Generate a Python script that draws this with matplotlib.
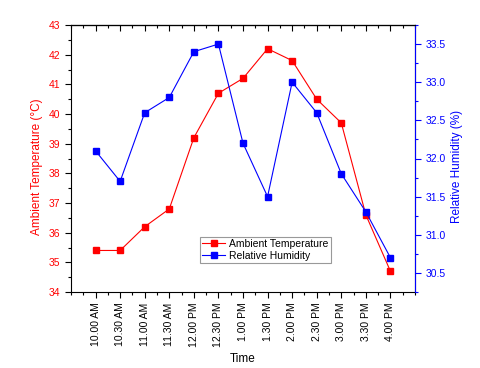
import matplotlib
matplotlib.use("Agg")
import matplotlib.pyplot as plt
from matplotlib.ticker import MultipleLocator, AutoMinorLocator, FormatStrFormatter

plt.rcParams['font.family'] = ['Liberation Sans', 'DejaVu Sans']

times = ["10.00 AM", "10.30 AM", "11.00 AM", "11.30 AM", "12.00 PM", "12.30 PM",
         "1.00 PM", "1.30 PM", "2.00 PM", "2.30 PM", "3.00 PM", "3.30 PM", "4.00 PM"]
temperature = [35.4, 35.4, 36.2, 36.8, 39.2, 40.7, 41.2, 42.2, 41.8, 40.5, 39.7, 36.6, 34.7]
humidity = [32.1, 31.7, 32.6, 32.8, 33.4, 33.5, 32.2, 31.5, 33.0, 32.6, 31.8, 31.3, 30.7]

red = '#ff0000'
blue = '#0000ff'

fig = plt.figure(figsize=(4.8, 3.68), dpi=100)
ax = fig.add_axes([71/480, 1-292/368, 344/480, 267/368])
ax2 = ax.twinx()

x = list(range(len(times)))
l1, = ax.plot(x, temperature, color=red, marker='s', markersize=4, lw=0.8, label='Ambient Temperature')
l2, = ax2.plot(x, humidity, color=blue, marker='s', markersize=4, lw=0.8, label='Relative Humidity')

ax.set_xlim(-1, 13)
ax.set_ylim(34, 43)
ax2.set_ylim(30.25, 33.75)

ax.set_xticks(x)
ax.set_xticklabels(times, rotation=90, fontsize=7.5)
ax.xaxis.set_minor_locator(AutoMinorLocator(2))
ax.yaxis.set_major_locator(MultipleLocator(1))
ax.yaxis.set_minor_locator(MultipleLocator(0.5))
ax2.yaxis.set_major_locator(MultipleLocator(0.5))
ax2.yaxis.set_minor_locator(MultipleLocator(0.25))
ax2.yaxis.set_major_formatter(FormatStrFormatter('%.1f'))

ax.tick_params(axis='x', which='both', direction='out', top=False)
ax.tick_params(axis='x', which='major', length=4, width=0.8)
ax.tick_params(axis='x', which='minor', length=2.5, width=0.8)
ax.tick_params(axis='y', which='major', direction='out', length=4, width=0.8, colors='black', labelcolor=red, labelsize=7.5)
ax.tick_params(axis='y', which='minor', direction='out', length=2.5, width=0.8)
ax2.tick_params(axis='y', which='major', direction='out', length=4, width=0.8, colors=blue, labelcolor=blue, labelsize=7.5)
ax2.tick_params(axis='y', which='minor', direction='out', length=2.5, width=0.8, colors=blue)

# top axis ticks pointing inward
sec = ax.secondary_xaxis('top')
sec.set_xticks(x)
sec.xaxis.set_minor_locator(AutoMinorLocator(2))
sec.tick_params(axis='x', which='both', direction='in', labeltop=False, width=0.8)
sec.tick_params(axis='x', which='major', length=4)
sec.tick_params(axis='x', which='minor', length=2.5)
sec.spines['top'].set_linewidth(0.8)

for s in ['top', 'bottom', 'left']:
    ax.spines[s].set_linewidth(0.8)
ax2.spines['right'].set_color(blue)
ax2.spines['right'].set_linewidth(0.8)
ax2.spines['left'].set_visible(False)
ax2.spines['top'].set_linewidth(0.8)
ax2.spines['bottom'].set_visible(False)

ax.set_ylabel('Ambient Temperature (°C)', color=red, fontsize=8.5)
ax2.set_ylabel('Relative Humidity (%)', color=blue, fontsize=8.5)
ax.yaxis.label.set_y(0.47)
ax2.yaxis.label.set_y(0.47)
ax.set_xlabel('Time', fontsize=8.5)

leg = ax.legend([l1, l2], ['Ambient Temperature', 'Relative Humidity'],
                loc='lower left', bbox_to_anchor=(0.375, 0.109), borderaxespad=0,
                fontsize=7.5, fancybox=False, edgecolor='#999999', framealpha=1,
                borderpad=0.2, labelspacing=0.2, handlelength=2.2, handletextpad=0.4)
leg.get_frame().set_linewidth(0.8)

fig.savefig('out.png', dpi=100)
